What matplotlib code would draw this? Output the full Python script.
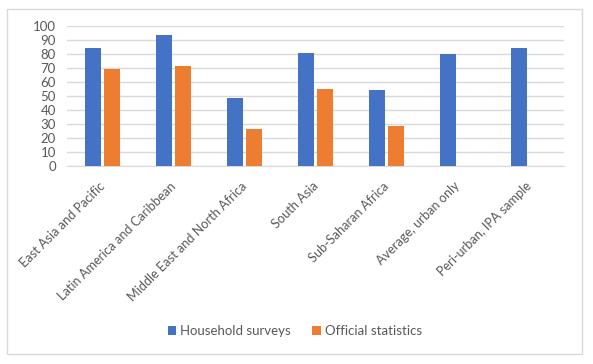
import matplotlib.pyplot as plt
import numpy as np
from matplotlib.patches import Rectangle
from matplotlib.transforms import offset_copy

categories = ["East Asia and Pacific", "Latin America and Caribbean",
              "Middle East and North Africa", "South Asia", "Sub-Saharan Africa",
              "Average, urban only", "Peri-urban, IPA sample"]
household = [84.5, 93.6, 48.6, 80.7, 54.3, 80.0, 84.5]
official = [69.3, 71.4, 26.4, 55.0, 28.6, np.nan, np.nan]

plt.rcParams['font.family'] = ['Lato', 'DejaVu Sans']
text_col = "#595959"

fig = plt.figure(figsize=(5.93, 3.64), dpi=100)
ax = fig.add_axes([67 / 593, 1 - 166 / 364, (564 - 67) / 593, 140 / 364])

x = np.arange(len(categories))
w = 0.225
ax.bar(x - 0.14, household, w, color="#4472C4", label="Household surveys", zorder=3)
ax.bar(x + 0.14, official, w, color="#ED7D31", label="Official statistics", zorder=3)

ax.set_xlim(-0.5, len(categories) - 0.5)
ax.set_ylim(0, 100)
ax.set_yticks(range(0, 101, 10))
ax.yaxis.grid(True, color="#d9d9d9", linewidth=1, zorder=0)
for s in ["top", "right", "left"]:
    ax.spines[s].set_visible(False)
ax.spines["bottom"].set_color("#d9d9d9")
ax.tick_params(axis="y", length=0, labelsize=9.5, colors=text_col, pad=8)
ax.tick_params(axis="x", length=0, labelsize=9.2, colors=text_col, pad=10)
ax.set_xticks(x)
ax.set_xticklabels(categories, rotation=45, ha="right")
# shift rotated labels right, as the spreadsheet does
for lbl in ax.get_xticklabels():
    lbl.set_transform(offset_copy(lbl.get_transform(), fig=fig, x=5, y=0, units="dots"))

fig.legend(loc="center", bbox_to_anchor=(0.497, 1 - 331 / 364), ncol=2, frameon=False,
           fontsize=9.5, labelcolor=text_col, handlelength=0.65, handleheight=0.65,
           columnspacing=1.6, handletextpad=0.3)

fig.patches.append(Rectangle((7 / 593, 1 - 354 / 364), 575 / 593, 345 / 364,
                             transform=fig.transFigure, fill=False,
                             edgecolor="#d9d9d9", linewidth=1))

fig.savefig("out.png", dpi=100)
